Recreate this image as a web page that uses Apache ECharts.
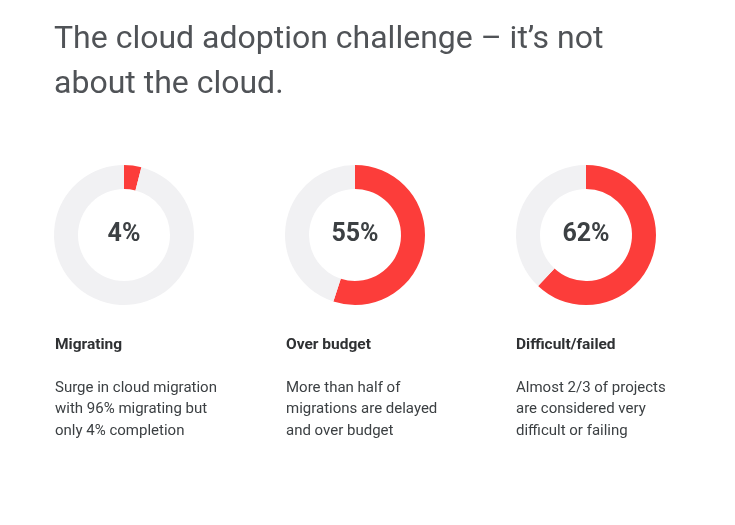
<!DOCTYPE html>
<html>
<head>
<meta charset="utf-8">
<script src="https://cdn.jsdelivr.net/npm/echarts@6/dist/echarts.min.js"></script>
<style>
  html, body { margin: 0; padding: 0; background: #fff; }
  #chart { width: 735px; height: 525px; }
</style>
</head>
<body>
<div id="chart"></div>
<script>
// 데이터
var titleLines = ['The cloud adoption challenge \u2013 it\u2019s not', 'about the cloud.'];
var categories = ['Migrating', 'Over budget', 'Difficult/failed'];
var percents = [4, 55, 62];
var descriptions = [
    ['Surge in cloud migration', 'with 96% migrating but', 'only 4% completion'],
    ['More than half of', 'migrations are delayed', 'and over budget'],
    ['Almost 2/3 of projects', 'are considered very', 'difficult or failing']
];

(function() {
    var chart = echarts.init(document.getElementById('chart'));

    var centersX = [124, 355, 586];
    var textX = [55, 286, 516];
    var series = [];
    var graphic = [];

    // 제목
    graphic.push({
        type : 'text',
        left : 54,
        top : 17,
        style : {
            text : titleLines.join('\n'),
            fill : '#505357',
            font : '400 32px Roboto',
            lineHeight : 45
        }
    });

    for (var i = 0; i < categories.length; i++) {
        series.push({
            type : 'pie',
            silent : true,
            center : [centersX[i], 235],
            radius : [46, 70],
            startAngle : 90,
            clockwise : true,
            avoidLabelOverlap : false,
            labelLine : { show : false },
            emphasis : { disabled : true },
            data : [{
                value : percents[i],
                name : categories[i],
                itemStyle : { color : '#fc3d3a' },
                label : {
                    show : true,
                    position : 'center',
                    formatter : '{c}%',
                    color : '#3c4043',
                    fontFamily : 'Roboto',
                    fontWeight : 'bold',
                    fontSize : 25
                }
            }, {
                value : 100 - percents[i],
                name : 'rest',
                itemStyle : { color : '#f1f1f3' },
                label : { show : false }
            }]
        });

        graphic.push({
            type : 'text',
            left : textX[i],
            top : 337,
            style : {
                text : categories[i],
                fill : '#2f3133',
                font : 'bold 15.5px Roboto'
            }
        });
        graphic.push({
            type : 'text',
            left : textX[i],
            top : 377,
            style : {
                text : descriptions[i].join('\n'),
                fill : '#3c4043',
                font : '400 15px Roboto',
                lineHeight : 21.5
            }
        });
    }

    var option = {
        backgroundColor : '#ffffff',
        animation : false,
        tooltip : { show : false },
        graphic : graphic,
        series : series
    };
    chart.setOption(option);

    window.addEventListener('resize', function() {
        chart.resize();
    });
})();
</script>
</body>
</html>
